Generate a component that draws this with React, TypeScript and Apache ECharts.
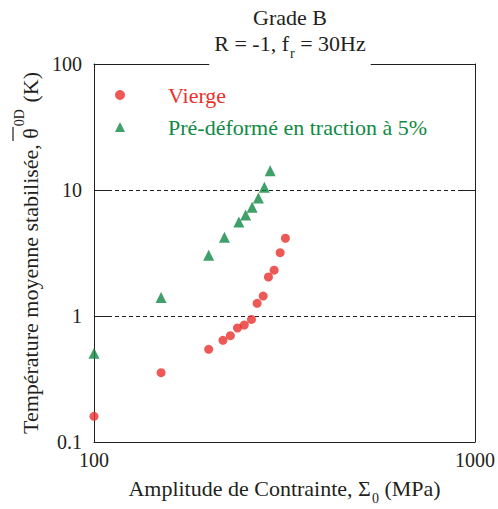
import React, { useEffect, useRef } from "react";
import * as echarts from "echarts";

const viergeStress = [100, 150, 200, 218, 228, 238, 248, 259, 268, 278, 287, 297, 308, 318];
const viergeTemp = [0.16, 0.355, 0.544, 0.641, 0.698, 0.803, 0.848, 0.94, 1.26, 1.44, 2.04, 2.31, 3.18, 4.14];
const preStress = [100, 150, 200, 220, 240, 250, 260, 270, 280, 290];
const preTemp = [0.506, 1.4, 3.03, 4.21, 5.57, 6.33, 7.29, 8.64, 10.5, 14.2];
const seriesNames = ["Vierge", "Pré-déformé en traction à 5%"];
const xTickRange = [100, 1000];
const yTickRange = [0.1, 100];

const FONT = "Liberation Serif";
const INK = "#231f20";
const RED = "#e8302c";
const GREEN = "#0f8a43";

const tok = (size: number, extra: any = {}) => ({
  fontFamily: FONT,
  fontSize: size,
  fontWeight: "normal",
  color: INK,
  ...extra,
});

export default function App() {
  const ref = useRef<HTMLDivElement>(null);
  useEffect(() => {
    if (!ref.current) return;
    const chart = echarts.init(ref.current, null, { renderer: "svg" });
    const fmt = (v: number) => String(Number(v.toPrecision(3)));
    const yBase = {
      type: "log" as const,
      logBase: 10,
      min: yTickRange[0],
      max: yTickRange[1],
      axisLine: { show: true, lineStyle: { color: INK, width: 1 } },
      axisTick: { show: true, inside: true, length: 14, lineStyle: { color: INK, width: 1 } },
      minorTick: { show: false },
    };
    const xBase = {
      type: "log" as const,
      logBase: 10,
      min: xTickRange[0],
      max: xTickRange[1],
      axisLine: { show: true, lineStyle: { color: INK, width: 1 } },
      axisTick: { show: false },
      splitLine: { show: false },
    };
    chart.setOption({
      animation: false,
      backgroundColor: "#fff",
      textStyle: { fontFamily: FONT, fontWeight: "normal" },
      title: {
        left: 285,
        top: 2,
        textAlign: "center",
        text: "{a|Grade B}\n{a|R = -1, f}{sub|r}{a| = 30Hz}",
        backgroundColor: "#fff",
        padding: [2, 5, 12, 5],
        textStyle: {
          ...tok(22),
          rich: {
            a: tok(22, { lineHeight: 26 }),
            sub: tok(14, { lineHeight: 4, padding: [20, 0, 0, 1] }),
          },
        },
      },
      legend: {
        orient: "vertical",
        left: 110,
        top: 79,
        itemWidth: 10,
        itemHeight: 10,
        itemGap: 10,
        selectedMode: false,
        data: [
          { name: seriesNames[0], icon: "circle", textStyle: tok(22, { color: RED, padding: [0, 0, 0, 38] }) },
          { name: seriesNames[1], icon: "triangle", textStyle: tok(22, { color: GREEN, padding: [0, 0, 0, 38] }) },
        ],
        textStyle: tok(22, { padding: [0, 0, 0, 38] }),
      },
      grid: { left: 94, right: 23, top: 64, bottom: 67, outerBoundsMode: "none", containLabel: false },
      xAxis: [
        {
          ...xBase,
          position: "bottom",
          axisLabel: { ...tok(20), margin: 8, formatter: fmt },
          name: "{a|Amplitude de Contrainte, Σ}{sub|0}{a| (MPa)}",
          nameLocation: "middle",
          nameGap: 33,
          nameMoveOverlap: false,
          nameTextStyle: {
            ...tok(22),
            rich: {
              a: tok(22, { lineHeight: 26 }),
              sub: tok(14, { lineHeight: 4, padding: [20, 0, 0, 1] }),
            },
          },
        },
        { ...xBase, position: "top", axisLabel: { show: false } },
      ],
      yAxis: [
        {
          ...yBase,
          position: "left",
          axisLabel: { ...tok(20), margin: 12, formatter: fmt },
          splitLine: { show: true, lineStyle: { color: INK, width: 1, type: [4, 3] } },
          name: "{a|Température moyenne stabilisée, }{a|θ}{sup|0D}{a| (K)}",
          nameLocation: "middle",
          nameRotate: 90,
          nameGap: 51,
          nameMoveOverlap: false,
          nameTextStyle: {
            ...tok(22),
            rich: {
              a: tok(22, { lineHeight: 26 }),
              sup: tok(14, { lineHeight: 4, padding: [0, 1, 22, 2] }),
            },
          },
        },
        { ...yBase, position: "right", axisLabel: { show: false }, splitLine: { show: false } },
      ],
      graphic: [
        {
          type: "line",
          shape: { x1: 13, y1: 127, x2: 13, y2: 141 },
          style: { stroke: INK, lineWidth: 1.2 },
          z: 100,
        },
      ],
      series: [
        {
          name: seriesNames[0],
          type: "scatter",
          symbol: "circle",
          symbolSize: 9,
          clip: false,
          itemStyle: { color: RED },
          data: viergeStress.map((s, i) => [s, viergeTemp[i]]),
        },
        {
          name: seriesNames[1],
          type: "scatter",
          symbol: "triangle",
          symbolSize: 11,
          clip: false,
          itemStyle: { color: GREEN },
          data: preStress.map((s, i) => [s, preTemp[i]]),
        },
      ],
    });
    return () => chart.dispose();
  }, []);
  return <div ref={ref} style={{ width: 498, height: 509, position: "absolute", left: 0, top: 0 }} />;
}
